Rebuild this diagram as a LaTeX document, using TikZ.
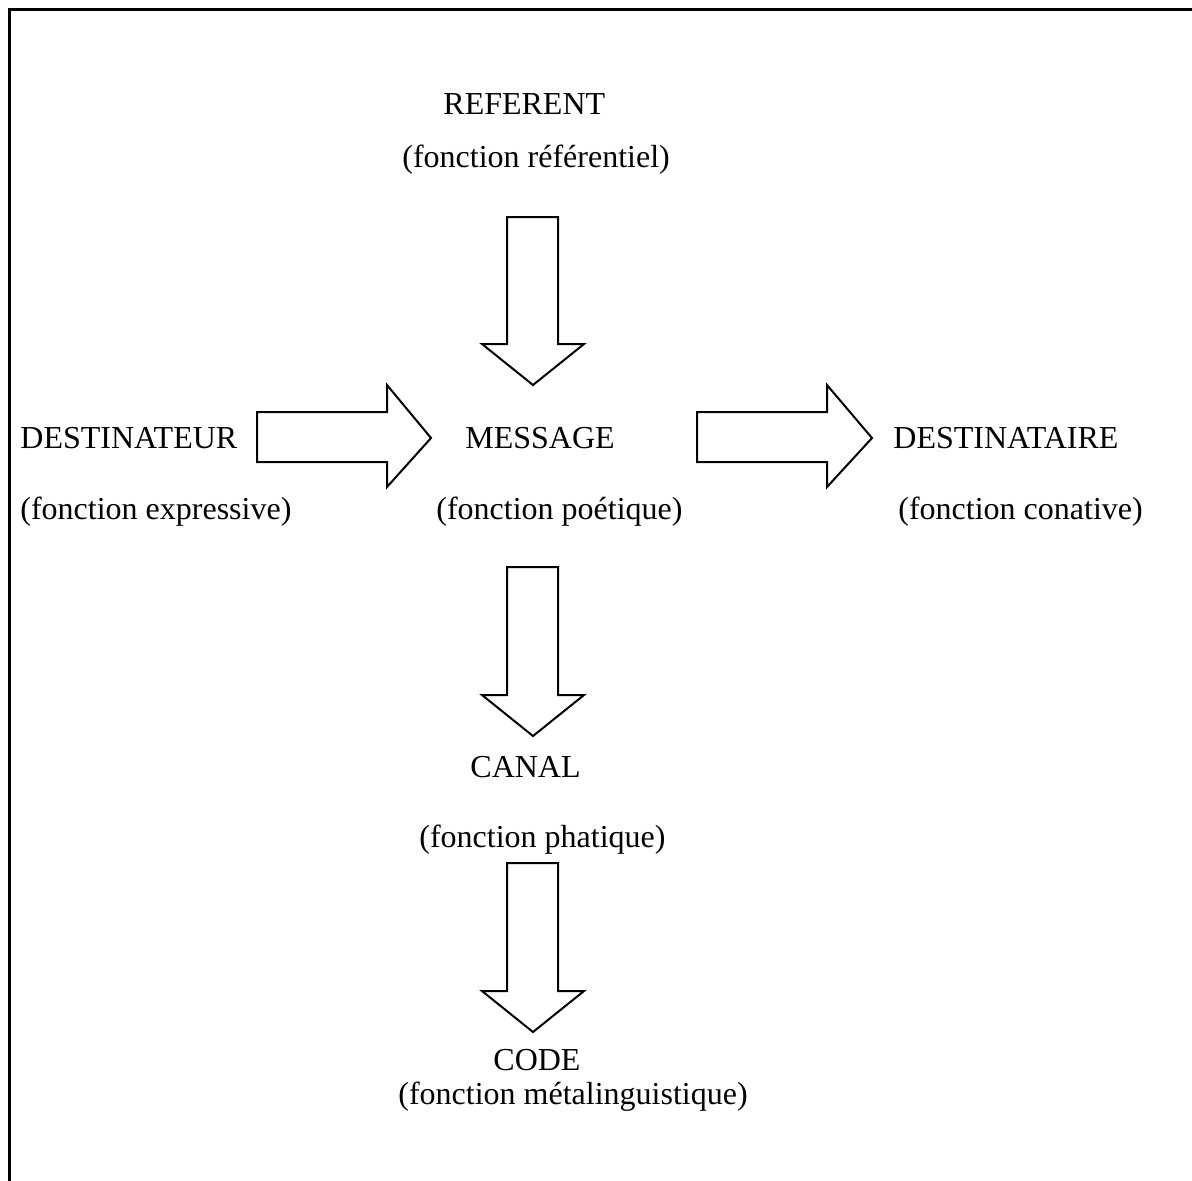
\documentclass[tikz,border=0pt]{standalone}
\usepackage{fontspec}
\setmainfont{Liberation Serif}
\begin{document}
\begin{tikzpicture}[x=0.5pt,y=-0.5pt,
  lbl/.style={anchor=base west,inner sep=0pt,font=\fontsize{16}{19}\selectfont},
  blockarrow/.style={draw=black,line width=1pt,fill=white,line join=miter}]
\useasboundingbox (0,0) rectangle (1192,1180);
% frame (top and left only)
\draw[line width=1.5pt] (9,1182) -- (9,9) -- (1194,9);
% labels
\node[lbl] (referent) at (443,114) {REFERENT};
\node[lbl] (referentf) at (402,167) {(fonction référentiel)};
\node[lbl] (dest) at (20,448) {DESTINATEUR};
\node[lbl] (destf) at (20,519) {(fonction expressive)};
\node[lbl] (msg) at (465,448) {MESSAGE};
\node[lbl] (msgf) at (436,519) {(fonction poétique)};
\node[lbl] (dre) at (893,448) {DESTINATAIRE};
\node[lbl] (dref) at (898,519) {(fonction conative)};
\node[lbl] (canal) at (470,777) {CANAL};
\node[lbl] (canalf) at (419,847) {(fonction phatique)};
\node[lbl] (code) at (493,1070) {CODE};
\node[lbl] (codef) at (398,1104) {(fonction métalinguistique)};
% block arrows
\draw[blockarrow] (507,217) -- (558,217) -- (558,344) -- (584,344) -- (533,385) -- (482,344) -- (507,344) -- cycle;
\draw[blockarrow] (257,412) -- (387,412) -- (387,385) -- (431,438) -- (387,487) -- (387,462) -- (257,462) -- cycle;
\draw[blockarrow] (697,412) -- (827,412) -- (827,385) -- (872,438) -- (827,487) -- (827,462) -- (697,462) -- cycle;
\draw[blockarrow] (507,567) -- (558,567) -- (558,695) -- (584,695) -- (533,736) -- (482,695) -- (507,695) -- cycle;
\draw[blockarrow] (507,863) -- (558,863) -- (558,991) -- (584,991) -- (533,1032) -- (482,991) -- (507,991) -- cycle;
\end{tikzpicture}
\end{document}
